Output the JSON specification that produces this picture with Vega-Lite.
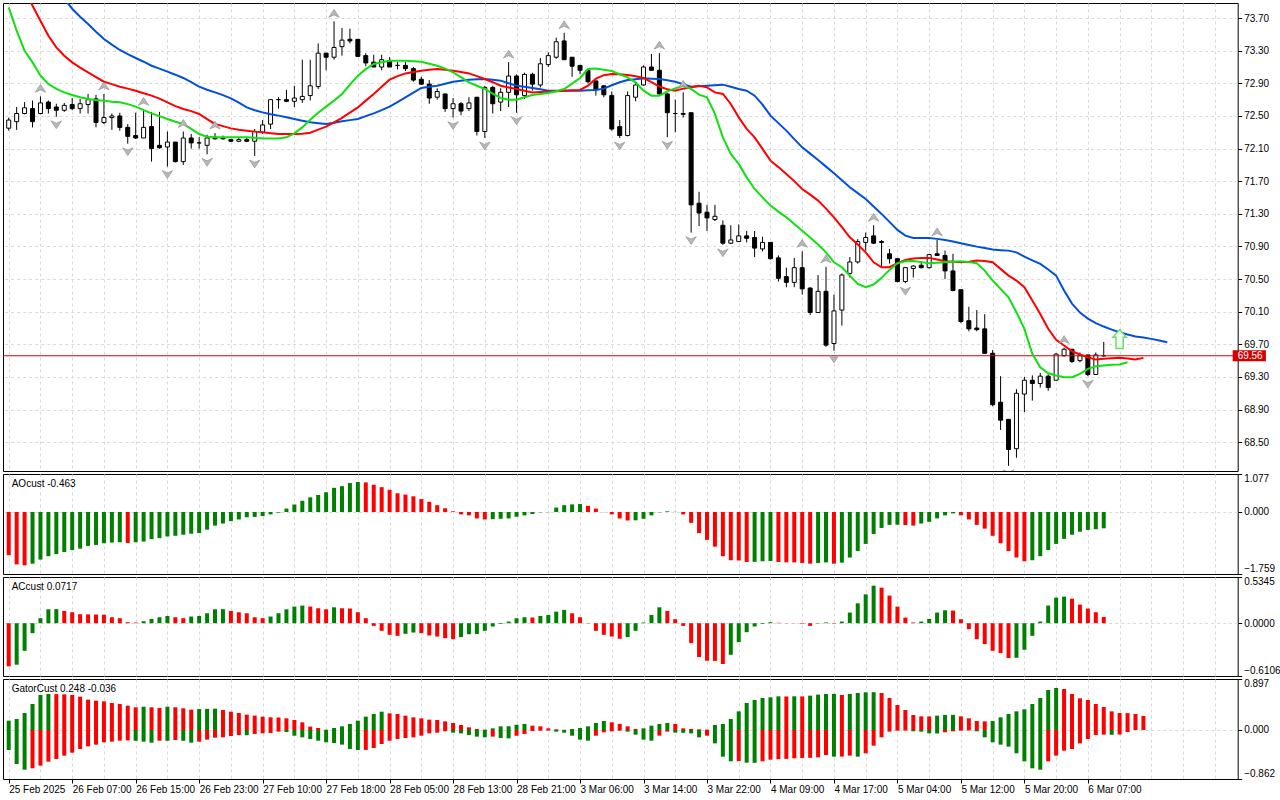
{
  "$schema": "https://vega.github.io/schema/vega-lite/v6.json",
  "background": "white",
  "padding": {"left": 2, "top": 2, "right": 0, "bottom": 0},
  "spacing": 3,
  "bounds": "flush",
  "datasets": {
    "bars": [
      {"i":0,"o":72.35,"h":72.48,"l":72.32,"c":72.45,"jaw":74.832,"teeth":74.464,"lips":73.831,"ao":-1.225,"ac":-0.499,"gu":0.164,"gl":-0.352},
      {"i":1,"o":72.43,"h":72.61,"l":72.33,"c":72.53,"jaw":74.685,"teeth":74.244,"lips":73.545,"ao":-1.485,"ac":-0.480,"gu":0.193,"gl":-0.598},
      {"i":2,"o":72.53,"h":72.67,"l":72.52,"c":72.60,"jaw":74.550,"teeth":74.036,"lips":73.300,"ao":-1.514,"ac":-0.319,"gu":0.299,"gl":-0.698},
      {"i":3,"o":72.59,"h":72.69,"l":72.36,"c":72.43,"jaw":74.415,"teeth":73.852,"lips":73.157,"ao":-1.466,"ac":-0.115,"gu":0.457,"gl":-0.674},
      {"i":4,"o":72.53,"h":72.74,"l":72.52,"c":72.66,"jaw":74.293,"teeth":73.668,"lips":72.994,"ao":-1.350,"ac":0.058,"gu":0.616,"gl":-0.627,"fr":"u"},
      {"i":5,"o":72.67,"h":72.69,"l":72.53,"c":72.59,"jaw":74.170,"teeth":73.484,"lips":72.892,"ao":-1.254,"ac":0.161,"gu":0.633,"gl":-0.557},
      {"i":6,"o":72.61,"h":72.65,"l":72.49,"c":72.57,"jaw":74.048,"teeth":73.341,"lips":72.831,"ao":-1.196,"ac":0.163,"gu":0.630,"gl":-0.510,"fr":"d"},
      {"i":7,"o":72.57,"h":72.66,"l":72.55,"c":72.63,"jaw":73.938,"teeth":73.239,"lips":72.789,"ao":-1.138,"ac":0.142,"gu":0.627,"gl":-0.451},
      {"i":8,"o":72.64,"h":72.72,"l":72.57,"c":72.59,"jaw":73.815,"teeth":73.157,"lips":72.757,"ao":-1.080,"ac":0.127,"gu":0.616,"gl":-0.399},
      {"i":9,"o":72.59,"h":72.71,"l":72.53,"c":72.65,"jaw":73.717,"teeth":73.092,"lips":72.730,"ao":-1.041,"ac":0.104,"gu":0.586,"gl":-0.334},
      {"i":10,"o":72.64,"h":72.77,"l":72.53,"c":72.70,"jaw":73.627,"teeth":73.034,"lips":72.708,"ao":-0.964,"ac":0.102,"gu":0.534,"gl":-0.287},
      {"i":11,"o":72.71,"h":72.76,"l":72.36,"c":72.42,"jaw":73.533,"teeth":72.976,"lips":72.697,"ao":-0.935,"ac":0.100,"gu":0.516,"gl":-0.258},
      {"i":12,"o":72.42,"h":72.77,"l":72.40,"c":72.48,"jaw":73.444,"teeth":72.920,"lips":72.688,"ao":-0.887,"ac":0.098,"gu":0.504,"gl":-0.217,"fr":"u"},
      {"i":13,"o":72.48,"h":72.53,"l":72.33,"c":72.50,"jaw":73.374,"teeth":72.890,"lips":72.675,"ao":-0.868,"ac":0.069,"gu":0.475,"gl":-0.205},
      {"i":14,"o":72.50,"h":72.54,"l":72.32,"c":72.36,"jaw":73.309,"teeth":72.859,"lips":72.667,"ao":-0.858,"ac":0.058,"gu":0.457,"gl":-0.188},
      {"i":15,"o":72.36,"h":72.40,"l":72.16,"c":72.25,"jaw":73.257,"teeth":72.835,"lips":72.645,"ao":-0.878,"ac":0.012,"gu":0.428,"gl":-0.182,"fr":"d"},
      {"i":16,"o":72.26,"h":72.54,"l":72.22,"c":72.23,"jaw":73.211,"teeth":72.810,"lips":72.614,"ao":-0.858,"ac":0.008,"gu":0.399,"gl":-0.190},
      {"i":17,"o":72.23,"h":72.58,"l":72.23,"c":72.36,"jaw":73.165,"teeth":72.779,"lips":72.571,"ao":-0.839,"ac":0.023,"gu":0.410,"gl":-0.205,"fr":"u"},
      {"i":18,"o":72.37,"h":72.55,"l":71.94,"c":72.10,"jaw":73.116,"teeth":72.749,"lips":72.532,"ao":-0.771,"ac":0.050,"gu":0.399,"gl":-0.223},
      {"i":19,"o":72.14,"h":72.55,"l":72.10,"c":72.11,"jaw":73.080,"teeth":72.712,"lips":72.498,"ao":-0.743,"ac":0.069,"gu":0.387,"gl":-0.188},
      {"i":20,"o":72.12,"h":72.31,"l":71.88,"c":72.18,"jaw":73.043,"teeth":72.667,"lips":72.463,"ao":-0.694,"ac":0.084,"gu":0.410,"gl":-0.190,"fr":"d"},
      {"i":21,"o":72.18,"h":72.18,"l":71.93,"c":71.94,"jaw":73.006,"teeth":72.620,"lips":72.430,"ao":-0.675,"ac":0.069,"gu":0.399,"gl":-0.176},
      {"i":22,"o":71.94,"h":72.31,"l":71.90,"c":72.23,"jaw":72.966,"teeth":72.586,"lips":72.402,"ao":-0.646,"ac":0.058,"gu":0.381,"gl":-0.190,"fr":"u"},
      {"i":23,"o":72.23,"h":72.28,"l":72.10,"c":72.17,"jaw":72.914,"teeth":72.559,"lips":72.341,"ao":-0.617,"ac":0.077,"gu":0.358,"gl":-0.223},
      {"i":24,"o":72.17,"h":72.24,"l":72.10,"c":72.17,"jaw":72.859,"teeth":72.524,"lips":72.279,"ao":-0.598,"ac":0.084,"gu":0.369,"gl":-0.205},
      {"i":25,"o":72.14,"h":72.27,"l":72.03,"c":72.23,"jaw":72.822,"teeth":72.461,"lips":72.246,"ao":-0.501,"ac":0.115,"gu":0.372,"gl":-0.170,"fr":"d"},
      {"i":26,"o":72.24,"h":72.29,"l":72.21,"c":72.22,"jaw":72.789,"teeth":72.402,"lips":72.240,"ao":-0.386,"ac":0.161,"gu":0.375,"gl":-0.135,"fr":"u"},
      {"i":27,"o":72.23,"h":72.26,"l":72.21,"c":72.22,"jaw":72.755,"teeth":72.375,"lips":72.238,"ao":-0.328,"ac":0.163,"gu":0.352,"gl":-0.129},
      {"i":28,"o":72.21,"h":72.22,"l":72.18,"c":72.19,"jaw":72.716,"teeth":72.348,"lips":72.238,"ao":-0.260,"ac":0.142,"gu":0.322,"gl":-0.106},
      {"i":29,"o":72.19,"h":72.24,"l":72.18,"c":72.21,"jaw":72.663,"teeth":72.332,"lips":72.238,"ao":-0.212,"ac":0.127,"gu":0.299,"gl":-0.088},
      {"i":30,"o":72.21,"h":72.23,"l":72.18,"c":72.19,"jaw":72.605,"teeth":72.320,"lips":72.238,"ao":-0.150,"ac":0.115,"gu":0.270,"gl":-0.092},
      {"i":31,"o":72.19,"h":72.34,"l":72.01,"c":72.31,"jaw":72.571,"teeth":72.308,"lips":72.232,"ao":-0.140,"ac":0.069,"gu":0.252,"gl":-0.070,"fr":"d"},
      {"i":32,"o":72.30,"h":72.45,"l":72.28,"c":72.39,"jaw":72.544,"teeth":72.299,"lips":72.225,"ao":-0.116,"ac":0.058,"gu":0.235,"gl":-0.059},
      {"i":33,"o":72.40,"h":72.70,"l":72.34,"c":72.70,"jaw":72.522,"teeth":72.289,"lips":72.225,"ao":-0.068,"ac":0.077,"gu":0.223,"gl":-0.053},
      {"i":34,"o":72.70,"h":72.73,"l":72.59,"c":72.70,"jaw":72.504,"teeth":72.279,"lips":72.225,"ao":-0.019,"ac":0.115,"gu":0.220,"gl":-0.029},
      {"i":35,"o":72.70,"h":72.82,"l":72.67,"c":72.68,"jaw":72.483,"teeth":72.279,"lips":72.238,"ao":0.096,"ac":0.161,"gu":0.205,"gl":-0.035},
      {"i":36,"o":72.68,"h":72.87,"l":72.61,"c":72.72,"jaw":72.463,"teeth":72.279,"lips":72.287,"ao":0.212,"ac":0.192,"gu":0.176,"gl":-0.100},
      {"i":37,"o":72.70,"h":73.19,"l":72.66,"c":72.74,"jaw":72.442,"teeth":72.283,"lips":72.360,"ao":0.318,"ac":0.204,"gu":0.135,"gl":-0.129},
      {"i":38,"o":72.75,"h":73.19,"l":72.69,"c":72.87,"jaw":72.422,"teeth":72.295,"lips":72.455,"ao":0.415,"ac":0.192,"gu":0.059,"gl":-0.158},
      {"i":39,"o":72.86,"h":73.39,"l":72.83,"c":73.27,"jaw":72.412,"teeth":72.332,"lips":72.540,"ao":0.482,"ac":0.173,"gu":0.035,"gl":-0.188},
      {"i":40,"o":73.27,"h":73.27,"l":73.06,"c":73.22,"jaw":72.402,"teeth":72.369,"lips":72.614,"ao":0.559,"ac":0.161,"gu":0.005,"gl":-0.217},
      {"i":41,"o":73.22,"h":73.66,"l":73.19,"c":73.34,"jaw":72.418,"teeth":72.422,"lips":72.688,"ao":0.685,"ac":0.184,"gu":0.035,"gl":-0.229,"fr":"u"},
      {"i":42,"o":73.35,"h":73.58,"l":73.24,"c":73.43,"jaw":72.434,"teeth":72.476,"lips":72.770,"ao":0.733,"ac":0.173,"gu":0.064,"gl":-0.258},
      {"i":43,"o":73.44,"h":73.57,"l":73.39,"c":73.42,"jaw":72.449,"teeth":72.540,"lips":72.884,"ao":0.820,"ac":0.170,"gu":0.106,"gl":-0.334},
      {"i":44,"o":73.44,"h":73.44,"l":73.23,"c":73.23,"jaw":72.463,"teeth":72.605,"lips":72.994,"ao":0.849,"ac":0.127,"gu":0.164,"gl":-0.352},
      {"i":45,"o":73.24,"h":73.27,"l":73.11,"c":73.15,"jaw":72.498,"teeth":72.688,"lips":73.074,"ao":0.839,"ac":0.058,"gu":0.235,"gl":-0.350},
      {"i":46,"o":73.16,"h":73.25,"l":73.10,"c":73.10,"jaw":72.532,"teeth":72.770,"lips":73.137,"ao":0.772,"ac":-0.031,"gu":0.281,"gl":-0.317},
      {"i":47,"o":73.10,"h":73.25,"l":73.06,"c":73.19,"jaw":72.571,"teeth":72.859,"lips":73.159,"ao":0.704,"ac":-0.088,"gu":0.322,"gl":-0.246},
      {"i":48,"o":73.18,"h":73.22,"l":73.10,"c":73.10,"jaw":72.614,"teeth":72.945,"lips":73.178,"ao":0.627,"ac":-0.134,"gu":0.293,"gl":-0.188},
      {"i":49,"o":73.12,"h":73.16,"l":73.07,"c":73.12,"jaw":72.669,"teeth":72.988,"lips":73.178,"ao":0.530,"ac":-0.146,"gu":0.281,"gl":-0.158},
      {"i":50,"o":73.12,"h":73.16,"l":73.05,"c":73.08,"jaw":72.728,"teeth":73.022,"lips":73.178,"ao":0.492,"ac":-0.123,"gu":0.252,"gl":-0.141},
      {"i":51,"o":73.08,"h":73.10,"l":72.92,"c":72.94,"jaw":72.786,"teeth":73.039,"lips":73.172,"ao":0.444,"ac":-0.108,"gu":0.223,"gl":-0.129},
      {"i":52,"o":72.95,"h":72.98,"l":72.88,"c":72.89,"jaw":72.843,"teeth":73.055,"lips":73.165,"ao":0.366,"ac":-0.115,"gu":0.205,"gl":-0.100},
      {"i":53,"o":72.89,"h":72.94,"l":72.65,"c":72.72,"jaw":72.859,"teeth":73.067,"lips":73.141,"ao":0.289,"ac":-0.142,"gu":0.182,"gl":-0.059},
      {"i":54,"o":72.73,"h":72.84,"l":72.70,"c":72.80,"jaw":72.871,"teeth":73.076,"lips":73.116,"ao":0.193,"ac":-0.154,"gu":0.176,"gl":-0.047},
      {"i":55,"o":72.77,"h":72.77,"l":72.55,"c":72.59,"jaw":72.896,"teeth":73.067,"lips":73.080,"ao":0.106,"ac":-0.173,"gu":0.152,"gl":-0.023},
      {"i":56,"o":72.59,"h":72.72,"l":72.48,"c":72.65,"jaw":72.920,"teeth":73.055,"lips":73.034,"ao":0.019,"ac":-0.184,"gu":0.123,"gl":-0.047,"fr":"d"},
      {"i":57,"o":72.65,"h":72.67,"l":72.51,"c":72.56,"jaw":72.933,"teeth":73.039,"lips":72.976,"ao":-0.068,"ac":-0.161,"gu":0.088,"gl":-0.059},
      {"i":58,"o":72.59,"h":72.73,"l":72.56,"c":72.66,"jaw":72.945,"teeth":73.022,"lips":72.912,"ao":-0.096,"ac":-0.127,"gu":0.047,"gl":-0.088},
      {"i":59,"o":72.73,"h":72.73,"l":72.26,"c":72.31,"jaw":72.951,"teeth":72.988,"lips":72.871,"ao":-0.183,"ac":-0.125,"gu":0.018,"gl":-0.117},
      {"i":60,"o":72.31,"h":72.87,"l":72.23,"c":72.85,"jaw":72.953,"teeth":72.953,"lips":72.831,"ao":-0.212,"ac":-0.088,"gu":0.006,"gl":-0.129,"fr":"d"},
      {"i":61,"o":72.85,"h":72.87,"l":72.53,"c":72.65,"jaw":72.945,"teeth":72.914,"lips":72.773,"ao":-0.205,"ac":-0.038,"gu":0.029,"gl":-0.117},
      {"i":62,"o":72.67,"h":72.84,"l":72.56,"c":72.79,"jaw":72.933,"teeth":72.871,"lips":72.721,"ao":-0.193,"ac":-0.008,"gu":0.064,"gl":-0.141},
      {"i":63,"o":72.79,"h":73.16,"l":72.61,"c":72.99,"jaw":72.902,"teeth":72.850,"lips":72.700,"ao":-0.183,"ac":0.019,"gu":0.066,"gl":-0.147,"fr":"u"},
      {"i":64,"o":72.99,"h":73.01,"l":72.54,"c":72.76,"jaw":72.871,"teeth":72.831,"lips":72.700,"ao":-0.135,"ac":0.058,"gu":0.094,"gl":-0.100,"fr":"d"},
      {"i":65,"o":72.75,"h":73.03,"l":72.71,"c":73.01,"jaw":72.859,"teeth":72.810,"lips":72.730,"ao":-0.096,"ac":0.069,"gu":0.106,"gl":-0.070},
      {"i":66,"o":73.01,"h":73.03,"l":72.81,"c":72.89,"jaw":72.843,"teeth":72.789,"lips":72.757,"ao":-0.058,"ac":0.066,"gu":0.076,"gl":-0.018},
      {"i":67,"o":72.88,"h":73.21,"l":72.85,"c":73.14,"jaw":72.828,"teeth":72.794,"lips":72.770,"ao":-0.010,"ac":0.084,"gu":0.064,"gl":-0.012},
      {"i":68,"o":73.13,"h":73.28,"l":73.10,"c":73.24,"jaw":72.810,"teeth":72.798,"lips":72.782,"ao":-0.005,"ac":0.096,"gu":0.029,"gl":-0.010},
      {"i":69,"o":73.22,"h":73.46,"l":73.20,"c":73.41,"jaw":72.810,"teeth":72.804,"lips":72.804,"ao":0.125,"ac":0.134,"gu":0.012,"gl":-0.029},
      {"i":70,"o":73.42,"h":73.52,"l":73.19,"c":73.19,"jaw":72.810,"teeth":72.810,"lips":72.831,"ao":0.193,"ac":0.154,"gu":0.004,"gl":-0.047,"fr":"u"},
      {"i":71,"o":73.22,"h":73.22,"l":72.98,"c":73.11,"jaw":72.810,"teeth":72.814,"lips":72.896,"ao":0.215,"ac":0.115,"gu":0.018,"gl":-0.100},
      {"i":72,"o":73.12,"h":73.12,"l":73.01,"c":73.06,"jaw":72.810,"teeth":72.819,"lips":72.966,"ao":0.225,"ac":0.069,"gu":0.035,"gl":-0.170},
      {"i":73,"o":73.06,"h":73.06,"l":72.90,"c":72.92,"jaw":72.816,"teeth":72.871,"lips":73.076,"ao":0.174,"ac":-0.003,"gu":0.064,"gl":-0.188},
      {"i":74,"o":72.93,"h":72.93,"l":72.75,"c":72.82,"jaw":72.819,"teeth":72.957,"lips":73.083,"ao":0.096,"ac":-0.088,"gu":0.123,"gl":-0.100},
      {"i":75,"o":72.87,"h":72.87,"l":72.73,"c":72.76,"jaw":72.835,"teeth":73.000,"lips":73.067,"ao":-0.005,"ac":-0.134,"gu":0.158,"gl":-0.041},
      {"i":76,"o":72.75,"h":72.80,"l":72.32,"c":72.34,"jaw":72.877,"teeth":73.015,"lips":73.051,"ao":-0.068,"ac":-0.154,"gu":0.135,"gl":-0.023},
      {"i":77,"o":72.37,"h":72.45,"l":72.23,"c":72.26,"jaw":72.914,"teeth":73.012,"lips":73.012,"ao":-0.183,"ac":-0.180,"gu":0.106,"gl":-0.012,"fr":"d"},
      {"i":78,"o":72.26,"h":72.80,"l":72.25,"c":72.75,"jaw":72.941,"teeth":73.002,"lips":72.973,"ao":-0.241,"ac":-0.161,"gu":0.064,"gl":-0.029},
      {"i":79,"o":72.73,"h":72.92,"l":72.68,"c":72.88,"jaw":72.951,"teeth":72.988,"lips":72.912,"ao":-0.236,"ac":-0.088,"gu":0.018,"gl":-0.082},
      {"i":80,"o":72.88,"h":73.12,"l":72.87,"c":73.10,"jaw":72.961,"teeth":72.966,"lips":72.810,"ao":-0.193,"ac":0.008,"gu":0.029,"gl":-0.170},
      {"i":81,"o":73.10,"h":73.26,"l":73.06,"c":73.06,"jaw":72.957,"teeth":72.914,"lips":72.749,"ao":-0.096,"ac":0.096,"gu":0.076,"gl":-0.188},
      {"i":82,"o":73.06,"h":73.27,"l":72.76,"c":72.77,"jaw":72.953,"teeth":72.859,"lips":72.749,"ao":-0.010,"ac":0.184,"gu":0.106,"gl":-0.100,"fr":"u"},
      {"i":83,"o":72.77,"h":72.78,"l":72.24,"c":72.54,"jaw":72.939,"teeth":72.828,"lips":72.801,"ao":0.019,"ac":0.142,"gu":0.123,"gl":-0.029,"fr":"d"},
      {"i":84,"o":72.53,"h":72.70,"l":72.30,"c":72.53,"jaw":72.920,"teeth":72.810,"lips":72.838,"ao":0.005,"ac":0.046,"gu":0.106,"gl":-0.047},
      {"i":85,"o":72.53,"h":72.79,"l":72.48,"c":72.52,"jaw":72.890,"teeth":72.835,"lips":72.871,"ao":-0.068,"ac":-0.031,"gu":0.029,"gl":-0.049,"fr":"u"},
      {"i":86,"o":72.54,"h":72.54,"l":71.07,"c":71.41,"jaw":72.859,"teeth":72.851,"lips":72.831,"ao":-0.309,"ac":-0.230,"gu":0.018,"gl":-0.060,"fr":"d"},
      {"i":87,"o":71.43,"h":71.57,"l":71.15,"c":71.31,"jaw":72.865,"teeth":72.871,"lips":72.761,"ao":-0.598,"ac":-0.392,"gu":0.012,"gl":-0.129},
      {"i":88,"o":71.32,"h":71.41,"l":71.09,"c":71.25,"jaw":72.871,"teeth":72.851,"lips":72.728,"ao":-0.791,"ac":-0.434,"gu":0.006,"gl":-0.100},
      {"i":89,"o":71.23,"h":71.41,"l":71.21,"c":71.27,"jaw":72.877,"teeth":72.789,"lips":72.525,"ao":-0.984,"ac":-0.436,"gu":0.088,"gl":-0.235},
      {"i":90,"o":71.16,"h":71.22,"l":70.92,"c":70.94,"jaw":72.884,"teeth":72.770,"lips":72.238,"ao":-1.254,"ac":-0.472,"gu":0.106,"gl":-0.469,"fr":"d"},
      {"i":91,"o":70.94,"h":71.16,"l":70.93,"c":70.98,"jaw":72.859,"teeth":72.647,"lips":72.034,"ao":-1.369,"ac":-0.365,"gu":0.193,"gl":-0.551},
      {"i":92,"o":70.96,"h":71.17,"l":70.96,"c":71.03,"jaw":72.831,"teeth":72.483,"lips":71.912,"ao":-1.375,"ac":-0.219,"gu":0.328,"gl":-0.545},
      {"i":93,"o":71.03,"h":71.09,"l":70.95,"c":71.00,"jaw":72.810,"teeth":72.341,"lips":71.747,"ao":-1.418,"ac":-0.104,"gu":0.475,"gl":-0.575},
      {"i":94,"o":71.01,"h":71.09,"l":70.77,"c":70.88,"jaw":72.749,"teeth":72.238,"lips":71.605,"ao":-1.415,"ac":-0.038,"gu":0.528,"gl":-0.577},
      {"i":95,"o":70.87,"h":71.02,"l":70.84,"c":70.95,"jaw":72.638,"teeth":72.096,"lips":71.502,"ao":-1.398,"ac":-0.008,"gu":0.563,"gl":-0.551},
      {"i":96,"o":70.95,"h":70.95,"l":70.74,"c":70.75,"jaw":72.504,"teeth":71.952,"lips":71.401,"ao":-1.389,"ac":0.012,"gu":0.575,"gl":-0.522},
      {"i":97,"o":70.76,"h":70.79,"l":70.47,"c":70.51,"jaw":72.412,"teeth":71.873,"lips":71.327,"ao":-1.418,"ac":0.005,"gu":0.592,"gl":-0.510},
      {"i":98,"o":70.53,"h":70.64,"l":70.40,"c":70.46,"jaw":72.320,"teeth":71.789,"lips":71.257,"ao":-1.427,"ac":0.002,"gu":0.590,"gl":-0.508},
      {"i":99,"o":70.46,"h":70.76,"l":70.40,"c":70.64,"jaw":72.216,"teeth":71.701,"lips":71.176,"ao":-1.430,"ac":-0.002,"gu":0.593,"gl":-0.498},
      {"i":100,"o":70.64,"h":70.84,"l":70.31,"c":70.38,"jaw":72.115,"teeth":71.605,"lips":71.094,"ao":-1.446,"ac":-0.006,"gu":0.591,"gl":-0.492,"fr":"u"},
      {"i":101,"o":70.39,"h":70.40,"l":70.06,"c":70.09,"jaw":72.038,"teeth":71.536,"lips":71.009,"ao":-1.466,"ac":-0.031,"gu":0.604,"gl":-0.490},
      {"i":102,"o":70.09,"h":70.55,"l":70.09,"c":70.35,"jaw":71.961,"teeth":71.462,"lips":70.923,"ao":-1.446,"ac":-0.004,"gu":0.622,"gl":-0.481},
      {"i":103,"o":70.35,"h":70.65,"l":69.67,"c":69.69,"jaw":71.879,"teeth":71.364,"lips":70.828,"ao":-1.430,"ac":0.008,"gu":0.633,"gl":-0.440,"fr":"u"},
      {"i":104,"o":69.71,"h":70.31,"l":69.62,"c":70.11,"jaw":71.797,"teeth":71.257,"lips":70.706,"ao":-1.466,"ac":-0.005,"gu":0.635,"gl":-0.469,"fr":"d"},
      {"i":105,"o":70.12,"h":70.57,"l":69.93,"c":70.55,"jaw":71.711,"teeth":71.137,"lips":70.645,"ao":-1.437,"ac":0.019,"gu":0.616,"gl":-0.467},
      {"i":106,"o":70.57,"h":70.77,"l":70.52,"c":70.71,"jaw":71.625,"teeth":71.012,"lips":70.543,"ao":-1.292,"ac":0.123,"gu":0.633,"gl":-0.451},
      {"i":107,"o":70.71,"h":70.99,"l":70.69,"c":70.96,"jaw":71.554,"teeth":70.923,"lips":70.441,"ao":-1.109,"ac":0.230,"gu":0.651,"gl":-0.469},
      {"i":108,"o":70.95,"h":71.07,"l":70.85,"c":71.01,"jaw":71.483,"teeth":70.828,"lips":70.400,"ao":-0.906,"ac":0.334,"gu":0.663,"gl":-0.410},
      {"i":109,"o":71.03,"h":71.16,"l":70.93,"c":70.94,"jaw":71.391,"teeth":70.706,"lips":70.433,"ao":-0.627,"ac":0.434,"gu":0.665,"gl":-0.276,"fr":"u"},
      {"i":110,"o":70.96,"h":70.98,"l":70.64,"c":70.95,"jaw":71.299,"teeth":70.645,"lips":70.515,"ao":-0.453,"ac":0.411,"gu":0.651,"gl":-0.129},
      {"i":111,"o":70.81,"h":70.87,"l":70.69,"c":70.75,"jaw":71.201,"teeth":70.645,"lips":70.613,"ao":-0.366,"ac":0.319,"gu":0.563,"gl":-0.029},
      {"i":112,"o":70.75,"h":70.75,"l":70.46,"c":70.47,"jaw":71.103,"teeth":70.696,"lips":70.694,"ao":-0.362,"ac":0.192,"gu":0.440,"gl":-0.012},
      {"i":113,"o":70.47,"h":70.65,"l":70.45,"c":70.64,"jaw":71.033,"teeth":70.735,"lips":70.718,"ao":-0.370,"ac":0.065,"gu":0.352,"gl":-0.010,"fr":"d"},
      {"i":114,"o":70.63,"h":70.67,"l":70.52,"c":70.66,"jaw":71.005,"teeth":70.751,"lips":70.723,"ao":-0.386,"ac":0.008,"gu":0.264,"gl":-0.023},
      {"i":115,"o":70.67,"h":70.72,"l":70.63,"c":70.64,"jaw":71.005,"teeth":70.760,"lips":70.708,"ao":-0.328,"ac":0.019,"gu":0.240,"gl":-0.029},
      {"i":116,"o":70.64,"h":70.81,"l":70.63,"c":70.80,"jaw":71.005,"teeth":70.760,"lips":70.694,"ao":-0.280,"ac":0.050,"gu":0.238,"gl":-0.059},
      {"i":117,"o":70.81,"h":70.98,"l":70.79,"c":70.79,"jaw":70.993,"teeth":70.739,"lips":70.700,"ao":-0.183,"ac":0.123,"gu":0.252,"gl":-0.061,"fr":"u"},
      {"i":118,"o":70.79,"h":70.85,"l":70.50,"c":70.60,"jaw":70.980,"teeth":70.718,"lips":70.706,"ao":-0.096,"ac":0.150,"gu":0.264,"gl":-0.041},
      {"i":119,"o":70.60,"h":70.81,"l":70.35,"c":70.36,"jaw":70.960,"teeth":70.712,"lips":70.712,"ao":-0.039,"ac":0.146,"gu":0.266,"gl":-0.023},
      {"i":120,"o":70.37,"h":70.37,"l":69.96,"c":69.98,"jaw":70.939,"teeth":70.706,"lips":70.718,"ao":-0.096,"ac":0.046,"gu":0.240,"gl":-0.012},
      {"i":121,"o":69.99,"h":70.16,"l":69.86,"c":69.89,"jaw":70.919,"teeth":70.714,"lips":70.708,"ao":-0.212,"ac":-0.069,"gu":0.205,"gl":-0.008},
      {"i":122,"o":69.90,"h":70.12,"l":69.86,"c":69.88,"jaw":70.898,"teeth":70.727,"lips":70.694,"ao":-0.366,"ac":-0.184,"gu":0.158,"gl":-0.023},
      {"i":123,"o":69.89,"h":70.07,"l":69.59,"c":69.59,"jaw":70.880,"teeth":70.721,"lips":70.604,"ao":-0.473,"ac":-0.242,"gu":0.152,"gl":-0.129},
      {"i":124,"o":69.59,"h":69.63,"l":68.94,"c":68.96,"jaw":70.862,"teeth":70.706,"lips":70.482,"ao":-0.675,"ac":-0.319,"gu":0.158,"gl":-0.217},
      {"i":125,"o":68.99,"h":69.31,"l":68.65,"c":68.77,"jaw":70.855,"teeth":70.625,"lips":70.380,"ao":-0.887,"ac":-0.346,"gu":0.223,"gl":-0.258},
      {"i":126,"o":68.78,"h":68.78,"l":68.21,"c":68.41,"jaw":70.849,"teeth":70.543,"lips":70.277,"ao":-1.109,"ac":-0.403,"gu":0.281,"gl":-0.293,"fr":"d"},
      {"i":127,"o":68.42,"h":69.15,"l":68.31,"c":69.10,"jaw":70.828,"teeth":70.482,"lips":70.093,"ao":-1.292,"ac":-0.400,"gu":0.328,"gl":-0.410},
      {"i":128,"o":69.09,"h":69.30,"l":68.87,"c":69.26,"jaw":70.776,"teeth":70.400,"lips":69.890,"ao":-1.398,"ac":-0.307,"gu":0.364,"gl":-0.551},
      {"i":129,"o":69.26,"h":69.32,"l":69.01,"c":69.22,"jaw":70.730,"teeth":70.237,"lips":69.583,"ao":-1.369,"ac":-0.146,"gu":0.457,"gl":-0.674},
      {"i":130,"o":69.22,"h":69.35,"l":69.17,"c":69.31,"jaw":70.686,"teeth":70.073,"lips":69.419,"ao":-1.254,"ac":0.019,"gu":0.563,"gl":-0.698},
      {"i":131,"o":69.31,"h":69.33,"l":69.13,"c":69.17,"jaw":70.617,"teeth":69.890,"lips":69.345,"ao":-1.080,"ac":0.204,"gu":0.704,"gl":-0.551},
      {"i":132,"o":69.26,"h":69.59,"l":69.26,"c":69.58,"jaw":70.543,"teeth":69.755,"lips":69.317,"ao":-0.906,"ac":0.296,"gu":0.739,"gl":-0.451},
      {"i":133,"o":69.56,"h":69.66,"l":69.55,"c":69.64,"jaw":70.359,"teeth":69.685,"lips":69.296,"ao":-0.762,"ac":0.307,"gu":0.721,"gl":-0.364,"fr":"u"},
      {"i":134,"o":69.64,"h":69.64,"l":69.47,"c":69.49,"jaw":70.200,"teeth":69.615,"lips":69.296,"ao":-0.646,"ac":0.284,"gu":0.633,"gl":-0.334},
      {"i":135,"o":69.50,"h":69.60,"l":69.48,"c":69.56,"jaw":70.089,"teeth":69.575,"lips":69.338,"ao":-0.559,"ac":0.215,"gu":0.557,"gl":-0.235},
      {"i":136,"o":69.57,"h":69.57,"l":69.31,"c":69.33,"jaw":70.016,"teeth":69.542,"lips":69.400,"ao":-0.510,"ac":0.169,"gu":0.528,"gl":-0.158,"fr":"d"},
      {"i":137,"o":69.33,"h":69.60,"l":69.33,"c":69.57,"jaw":69.961,"teeth":69.513,"lips":69.432,"ao":-0.490,"ac":0.127,"gu":0.457,"gl":-0.088},
      {"i":138,"o":69.56,"h":69.73,"l":69.55,"c":69.56,"jaw":69.918,"teeth":69.522,"lips":69.441,"ao":-0.463,"ac":0.0717,"gu":0.405,"gl":-0.082},
      {"i":139,"jaw":69.881,"teeth":69.528,"lips":69.449,"gu":0.328,"gl":-0.084},
      {"i":140,"jaw":69.848,"teeth":69.534,"lips":69.453,"gu":0.299,"gl":-0.080,"sig":69.765},
      {"i":141,"jaw":69.820,"teeth":69.526,"lips":69.481,"gu":0.297,"gl":-0.036},
      {"i":142,"jaw":69.795,"teeth":69.513,"gu":0.281},
      {"i":143,"jaw":69.783,"teeth":69.534,"gu":0.248},
      {"i":144,"jaw":69.767},
      {"i":145,"jaw":69.746},
      {"i":146,"jaw":69.725}
    ]
  },
  "vconcat": [
    {
      "width": 1234.7,
      "height": 468,
      "data": {"name": "bars"},
      "layer": [
        {
          "transform": [{"filter": "isValid(datum.o)"}],
          "mark": {"type": "rule", "color": "#000000", "strokeWidth": 1},
          "encoding": {
            "x": {
              "field": "i",
              "type": "quantitative",
              "scale": {"domain": [-0.09, 154.25], "nice": false, "zero": false},
              "axis": {"values": [0,4,8,12,16,20,24,28,32,36,40,44,48,52,56,60,64,68,72,76,80,84,88,92,96,100,104,108,112,116,120,124,128,132,136,140,144,148,152], "tickCount": 100, "labels": false, "ticks": false, "title": null}
            },
            "y": {
              "field": "l",
              "type": "quantitative",
              "scale": {"domain": [68.147, 73.885], "nice": false, "zero": false},
              "axis": {"orient": "right", "values": [68.5,68.9,69.3,69.7,70.1,70.5,70.9,71.3,71.7,72.1,72.5,72.9,73.3,73.7], "tickCount": 100, "labelOverlap": false, "format": ".2f", "title": null}
            },
            "y2": {"field": "h"}
          }
        },
        {
          "transform": [{"filter": "isValid(datum.o)"}],
          "mark": {"type": "bar", "width": 4, "stroke": "#000000", "strokeWidth": 1},
          "encoding": {
            "x": {"field": "i", "type": "quantitative"},
            "y": {"field": "o", "type": "quantitative"},
            "y2": {"field": "c"},
            "fill": {"condition": {"test": "datum.c > datum.o", "value": "#ffffff"}, "value": "#000000"}
          }
        },
        {
          "transform": [{"filter": "datum.i == 138"}],
          "mark": {"type": "rule", "color": "#d40000", "strokeWidth": 1},
          "encoding": {"y": {"field": "c", "type": "quantitative"}}
        },
        {
          "mark": {"type": "line", "color": "#0050dc", "strokeWidth": 2, "clip": true},
          "encoding": {"x": {"field": "i", "type": "quantitative"}, "y": {"field": "jaw", "type": "quantitative"}}
        },
        {
          "mark": {"type": "line", "color": "#ff0000", "strokeWidth": 2, "clip": true},
          "encoding": {"x": {"field": "i", "type": "quantitative"}, "y": {"field": "teeth", "type": "quantitative"}}
        },
        {
          "mark": {"type": "line", "color": "#10e010", "strokeWidth": 2, "clip": true},
          "encoding": {"x": {"field": "i", "type": "quantitative"}, "y": {"field": "lips", "type": "quantitative"}}
        },
        {
          "transform": [{"filter": "datum.fr == 'u'"}],
          "mark": {"type": "point", "shape": "M0,-0.75L1,0.75L0,0.3L-1,0.75Z", "size": 110, "filled": true, "fill": "#b8b8b8", "stroke": "#8a8a8a", "strokeWidth": 0.6, "opacity": 1, "yOffset": -8, "clip": true},
          "encoding": {"x": {"field": "i", "type": "quantitative"}, "y": {"field": "h", "type": "quantitative"}}
        },
        {
          "transform": [{"filter": "datum.fr == 'd'"}],
          "mark": {"type": "point", "shape": "M0,0.75L1,-0.75L0,-0.3L-1,-0.75Z", "size": 110, "filled": true, "fill": "#b8b8b8", "stroke": "#8a8a8a", "strokeWidth": 0.6, "opacity": 1, "yOffset": 8, "clip": true},
          "encoding": {"x": {"field": "i", "type": "quantitative"}, "y": {"field": "l", "type": "quantitative"}}
        },
        {
          "transform": [{"filter": "isValid(datum.sig)"}],
          "mark": {"type": "point", "shape": "M0,-1L0.7,-0.2L0.38,-0.2L0.38,1L-0.38,1L-0.38,-0.2L-0.7,-0.2Z", "size": 361, "filled": true, "fill": "#effff0", "stroke": "#6ddc6d", "strokeWidth": 1.5, "opacity": 1},
          "encoding": {"x": {"field": "i", "type": "quantitative"}, "y": {"field": "sig", "type": "quantitative"}}
        },
        {
          "transform": [{"filter": "datum.i == 138"}],
          "mark": {"type": "point", "shape": "M0,-0.7L4.15,-0.7L4.15,0.7L0,0.7Z", "size": 256, "filled": true, "fill": "#d40000", "strokeWidth": 0, "opacity": 1},
          "encoding": {"x": {"datum": 154.25}, "y": {"field": "c", "type": "quantitative"}}
        },
        {
          "transform": [{"filter": "datum.i == 138"}],
          "mark": {"type": "text", "color": "#ffffff", "font": "Liberation Sans", "fontSize": 10, "align": "left", "baseline": "middle", "dx": 5},
          "encoding": {"x": {"datum": 154.25}, "y": {"field": "c", "type": "quantitative"}, "text": {"field": "c", "type": "quantitative", "format": ".2f"}}
        }
      ]
    },
    {
      "width": 1234.7,
      "height": 100,
      "data": {"name": "bars"},
      "layer": [
        {
          "transform": [
            {"window": [{"op": "lag", "field": "ao", "as": "prev"}], "sort": [{"field": "i"}]},
            {"filter": "isValid(datum.ao)"}
          ],
          "mark": {"type": "bar", "width": 4},
          "encoding": {
            "x": {
              "field": "i",
              "type": "quantitative",
              "scale": {"domain": [-0.09, 154.25], "nice": false, "zero": false},
              "axis": {"values": [0,4,8,12,16,20,24,28,32,36,40,44,48,52,56,60,64,68,72,76,80,84,88,92,96,100,104,108,112,116,120,124,128,132,136,140,144,148,152], "tickCount": 100, "labels": false, "ticks": false, "title": null}
            },
            "y": {
              "field": "ao",
              "type": "quantitative",
              "scale": {"domain": [-1.759, 1.077], "nice": false, "zero": false},
              "axis": {"orient": "right", "values": [-1.759, 0, 1.077], "format": ".3f", "labelFlush": true, "labelOverlap": false, "title": null, "gridOpacity": {"condition": {"test": "datum.value == 0", "value": 1}, "value": 0}}
            },
            "y2": {"datum": 0},
            "color": {"condition": {"test": "datum.prev != null && datum.ao > datum.prev", "value": "#008000"}, "value": "#ff0000"}
          }
        },
        {
          "transform": [{"filter": "datum.i == 0"}],
          "mark": {"type": "text", "align": "left", "baseline": "top", "dx": 3, "dy": 5, "font": "Liberation Sans", "fontSize": 10, "color": "#000000"},
          "encoding": {"x": {"field": "i", "type": "quantitative"}, "y": {"datum": 1.077}, "text": {"value": "AOcust -0.463"}}
        }
      ]
    },
    {
      "width": 1234.7,
      "height": 99,
      "data": {"name": "bars"},
      "layer": [
        {
          "transform": [
            {"window": [{"op": "lag", "field": "ac", "as": "prev"}], "sort": [{"field": "i"}]},
            {"filter": "isValid(datum.ac)"}
          ],
          "mark": {"type": "bar", "width": 4},
          "encoding": {
            "x": {
              "field": "i",
              "type": "quantitative",
              "scale": {"domain": [-0.09, 154.25], "nice": false, "zero": false},
              "axis": {"values": [0,4,8,12,16,20,24,28,32,36,40,44,48,52,56,60,64,68,72,76,80,84,88,92,96,100,104,108,112,116,120,124,128,132,136,140,144,148,152], "tickCount": 100, "labels": false, "ticks": false, "title": null}
            },
            "y": {
              "field": "ac",
              "type": "quantitative",
              "scale": {"domain": [-0.6106, 0.5345], "nice": false, "zero": false},
              "axis": {"orient": "right", "values": [-0.6106, 0, 0.5345], "format": ".4f", "labelFlush": true, "labelOverlap": false, "title": null, "gridOpacity": {"condition": {"test": "datum.value == 0", "value": 1}, "value": 0}}
            },
            "y2": {"datum": 0},
            "color": {"condition": {"test": "datum.prev != null && datum.ac > datum.prev", "value": "#008000"}, "value": "#ff0000"}
          }
        },
        {
          "transform": [{"filter": "datum.i == 0"}],
          "mark": {"type": "text", "align": "left", "baseline": "top", "dx": 3, "dy": 5, "font": "Liberation Sans", "fontSize": 10, "color": "#000000"},
          "encoding": {"x": {"field": "i", "type": "quantitative"}, "y": {"datum": 0.5345}, "text": {"value": "ACcust 0.0717"}}
        }
      ]
    },
    {
      "width": 1234.7,
      "height": 100,
      "data": {"name": "bars"},
      "layer": [
        {
          "transform": [
            {"window": [{"op": "lag", "field": "gu", "as": "guPrev"}], "sort": [{"field": "i"}]},
            {"filter": "isValid(datum.gu)"}
          ],
          "mark": {"type": "bar", "width": 4},
          "encoding": {
            "x": {
              "field": "i",
              "type": "quantitative",
              "scale": {"domain": [-0.09, 154.25], "nice": false, "zero": false},
              "axis": {
                "values": [0,4,8,12,16,20,24,28,32,36,40,44,48,52,56,60,64,68,72,76,80,84,88,92,96,100,104,108,112,116,120,124,128,132,136,140,144,148,152],
                "tickCount": 100,
                "title": null,
                "labelAlign": "left",
                "labelBaseline": "top",
                "labelPadding": 2,
                "labelOverlap": false,
                "labelBound": false,
                "labelFlush": false,
                "tickOpacity": {"condition": {"test": "datum.value % 8 == 0 && datum.value <= 136", "value": 1}, "value": 0},
                "labelExpr": "datum.value % 8 == 0 && datum.value <= 136 ? ['25 Feb 2025','26 Feb 07:00','26 Feb 15:00','26 Feb 23:00','27 Feb 10:00','27 Feb 18:00','28 Feb 05:00','28 Feb 13:00','28 Feb 21:00','3 Mar 06:00','3 Mar 14:00','3 Mar 22:00','4 Mar 09:00','4 Mar 17:00','5 Mar 04:00','5 Mar 12:00','5 Mar 20:00','6 Mar 07:00'][datum.value / 8] : ''"
              }
            },
            "y": {
              "field": "gu",
              "type": "quantitative",
              "scale": {"domain": [-0.862, 0.897], "nice": false, "zero": false},
              "axis": {"orient": "right", "values": [-0.862, 0, 0.897], "format": ".3f", "labelFlush": true, "labelOverlap": false, "title": null, "gridOpacity": {"condition": {"test": "datum.value == 0", "value": 1}, "value": 0}}
            },
            "y2": {"datum": 0},
            "color": {"condition": {"test": "datum.guPrev == null || datum.gu > datum.guPrev", "value": "#008000"}, "value": "#ff0000"}
          }
        },
        {
          "transform": [
            {"window": [{"op": "lag", "field": "gl", "as": "glPrev"}], "sort": [{"field": "i"}]},
            {"filter": "isValid(datum.gl)"}
          ],
          "mark": {"type": "bar", "width": 4},
          "encoding": {
            "x": {"field": "i", "type": "quantitative"},
            "y": {"field": "gl", "type": "quantitative"},
            "y2": {"datum": 0},
            "color": {"condition": {"test": "datum.glPrev == null || abs(datum.gl) > abs(datum.glPrev)", "value": "#008000"}, "value": "#ff0000"}
          }
        },
        {
          "transform": [{"filter": "datum.i == 0"}],
          "mark": {"type": "text", "align": "left", "baseline": "top", "dx": 3, "dy": 5, "font": "Liberation Sans", "fontSize": 10, "color": "#000000"},
          "encoding": {"x": {"field": "i", "type": "quantitative"}, "y": {"datum": 0.897}, "text": {"value": "GatorCust 0.248 -0.036"}}
        }
      ]
    }
  ],
  "config": {
    "view": {"stroke": "#000000", "strokeWidth": 1, "fill": "#ffffff"},
    "axis": {
      "labelFont": "Liberation Sans",
      "labelFontSize": 10,
      "labelColor": "#000000",
      "labelOverlap": false,
      "tickColor": "#000000",
      "tickSize": 4,
      "labelPadding": 2,
      "domain": false,
      "gridColor": "#d9d9d9",
      "gridDash": [3, 3],
      "gridWidth": 1
    }
  }
}
